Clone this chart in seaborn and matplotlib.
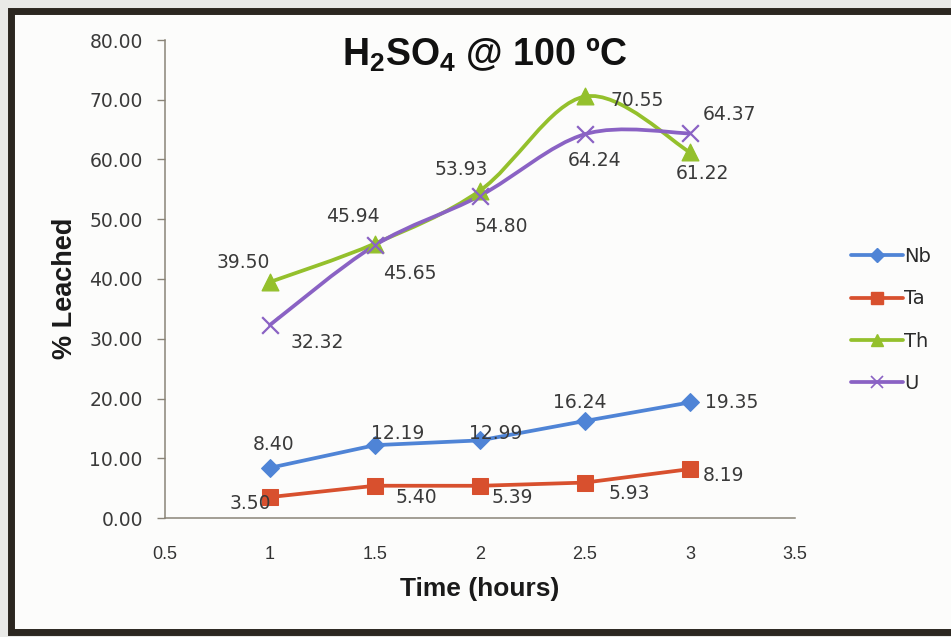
import matplotlib
matplotlib.use("Agg")
import numpy as np
import pandas as pd
import matplotlib.pyplot as plt
from matplotlib.path import Path
from matplotlib.patches import PathPatch, Rectangle
from matplotlib.lines import Line2D
from matplotlib import font_manager
import seaborn as sns

# ---- data -------------------------------------------------------------
hours = [1, 1.5, 2, 2.5, 3]
nb = [8.40, 12.19, 12.99, 16.24, 19.35]
ta = [3.50, 5.40, 5.39, 5.93, 8.19]
th = [39.50, 45.94, 54.80, 70.55, 61.22]
u = [32.32, 45.65, 53.93, 64.24, 64.37]
series_names = ["Nb", "Ta", "Th", "U"]
x_ticks = [0.5, 1, 1.5, 2, 2.5, 3, 3.5]
y_ticks = [0, 10, 20, 30, 40, 50, 60, 70, 80]

# label offsets from each point (pixels: right, down)
nb_off = [(4, -23), (23, -12), (16, -7), (-5, -18), (42, 0)]
ta_off = [(-20, 6), (41, 12), (32, 12), (44, 11), (33, 6)]
th_off = [(-27, -19), (-22, -27), (21, 36), (52, 4), (12, 21)]
u_off = [(47, 18), (35, 28), (-19, -26), (10, 26), (40, -19)]

colors = {"Nb": "#4f84d6", "Ta": "#d8502e", "Th": "#94c02c", "U": "#8a62c4"}
markers = {"Nb": "D", "Ta": "s", "Th": "^", "U": "x"}
msizes = {"Nb": 9.5, "Ta": 11.5, "Th": 12, "U": 12}

sns.set_theme(style="white")


def pick(fams):
    for f in fams:
        try:
            font_manager.findfont(font_manager.FontProperties(family=f),
                                  fallback_to_default=False)
            return f
        except Exception:
            pass
    return "DejaVu Sans"


narrow = pick(["Liberation Sans Narrow", "Arial Narrow", "Liberation Sans"])
plain = pick(["Liberation Sans", "Arial"])
plt.rcParams["font.family"] = ["DejaVu Sans"]
plt.rcParams["mathtext.fontset"] = "custom"
plt.rcParams["mathtext.rm"] = f"{narrow}:bold"
plt.rcParams["mathtext.bf"] = f"{narrow}:bold"
plt.rcParams["mathtext.it"] = f"{narrow}:bold"

W, H, DPI = 951, 637, 100
fig = plt.figure(figsize=(W / DPI, H / DPI), dpi=DPI, facecolor="#e9e9e7")

# panel background and dark frame
frame = Rectangle((11 / W, 5 / H), (W - 8) / W, (H - 16) / H,
                  transform=fig.transFigure, facecolor="#fcfcfb",
                  edgecolor="#2b2620", linewidth=5, zorder=-10)
fig.patches.append(frame)

ax = fig.add_axes([165 / W, 1 - 518 / H, 630 / W, 478 / H])
ax.set_zorder(2)
ax.set_facecolor("none")

long = pd.DataFrame({
    "Time": hours * 4,
    "Value": nb + ta + th + u,
    "Metal": sum([[n] * len(hours) for n in series_names], []),
})

# straight lines for Nb and Ta
for name in ["Nb", "Ta"]:
    sub = long[long.Metal == name]
    sns.lineplot(data=sub, x="Time", y="Value", ax=ax, color=colors[name],
                 linewidth=2.7, marker=markers[name], markersize=msizes[name],
                 markeredgecolor=colors[name], zorder=3)


def smooth_path(xs, ys):
    """Cubic Bezier path through the points (Catmull-Rom style tangents)."""
    pts = np.column_stack([xs, ys]).astype(float)
    n = len(pts)
    verts = [pts[0]]
    codes = [Path.MOVETO]
    for i in range(n - 1):
        p0 = pts[i - 1] if i > 0 else pts[i]
        p1, p2 = pts[i], pts[i + 1]
        p3 = pts[i + 2] if i + 2 < n else pts[i + 1]
        c1 = p1 + (p2 - p0) / 6.0
        c2 = p2 - (p3 - p1) / 6.0
        verts += [c1, c2, p2]
        codes += [Path.CURVE4] * 3
    return Path(verts, codes)


# smoothed lines for Th and U
for name, vals in [("Th", th), ("U", u)]:
    ax.add_patch(PathPatch(smooth_path(hours, vals), facecolor="none",
                           edgecolor=colors[name], linewidth=2.7, zorder=3,
                           capstyle="round"))
    sub = long[long.Metal == name]
    if markers[name] == "x":
        sns.scatterplot(data=sub, x="Time", y="Value", ax=ax, marker="x",
                        s=msizes[name] ** 2, color=colors[name],
                        linewidth=1.6, zorder=4)
    else:
        sns.scatterplot(data=sub, x="Time", y="Value", ax=ax,
                        marker=markers[name], s=msizes[name] ** 2,
                        color=colors[name], edgecolor=colors[name], zorder=4)

# value labels
for vals, offs in [(nb, nb_off), (ta, ta_off), (th, th_off), (u, u_off)]:
    for xv, yv, (dx, dy) in zip(hours, vals, offs):
        ax.annotate(f"{yv:.2f}", (xv, yv), xytext=(dx * 0.72, -dy * 0.72),
                    textcoords="offset points", ha="center", va="center",
                    fontsize=13.5, color="#3a3a3a", zorder=5,
                    fontfamily="DejaVu Sans")

ax.set_xlim(0.5, 3.5)
ax.set_ylim(0, 80)
ax.set_xticks(x_ticks)
ax.set_xticklabels([f"{t:g}" for t in x_ticks], fontfamily=narrow,
                   fontsize=13, color="#333333")
ax.set_xticks([1], minor=True)
ax.tick_params(axis="x", which="major", length=0, pad=20)
ax.tick_params(axis="x", which="minor", length=6, width=1, color="#8a8478",
               direction="out", bottom=True)
ax.set_yticks(y_ticks)
ax.set_yticklabels([f"{t:.2f}" for t in y_ticks], fontsize=13.5,
                   color="#3a3a3a", fontfamily="DejaVu Sans")
ax.tick_params(axis="y", length=6, width=1, color="#8a8478", direction="out",
               left=True, pad=10)

for side in ["top", "right"]:
    ax.spines[side].set_visible(False)
for side in ["left", "bottom"]:
    ax.spines[side].set_color("#8a8478")
    ax.spines[side].set_linewidth(1.1)

ax.set_xlabel("Time (hours)", fontfamily=narrow, fontweight="bold",
              fontsize=19, color="#1a1a1a")
ax.xaxis.set_label_coords(0.5, -(577 - 518) / 478)
ax.set_ylabel("% Leached", fontfamily=plain, fontweight="bold",
              fontsize=19.5, color="#1a1a1a")
ax.yaxis.set_label_coords(-(165 - 78) / 630, (518 - 288) / 478)

fig.text(485 / W, 1 - 55 / H, r"$\mathrm{H_2SO_4}$ @ 100 ºC",
         ha="center", va="center", fontfamily=narrow, fontweight="bold",
         fontsize=27, color="#111111")

handles = []
for name in series_names:
    if markers[name] == "x":
        h = Line2D([], [], color=colors[name], linewidth=2.7, marker="x",
                   markersize=8, markeredgewidth=1.2)
    else:
        h = Line2D([], [], color=colors[name], linewidth=2.7,
                   marker=markers[name], markersize=msizes[name] * 0.75,
                   markeredgecolor=colors[name])
    handles.append(h)
ax.legend(handles, series_names, loc="center left",
          bbox_to_anchor=((848 - 165) / 630 - 0.008, (518 - 320) / 478),
          frameon=False, handlelength=2.7, handletextpad=0.05,
          labelspacing=1.2, fontsize=14, labelcolor="#2a2a2a",
          borderaxespad=0)

fig.savefig("out.png", dpi=DPI, facecolor=fig.get_facecolor())
